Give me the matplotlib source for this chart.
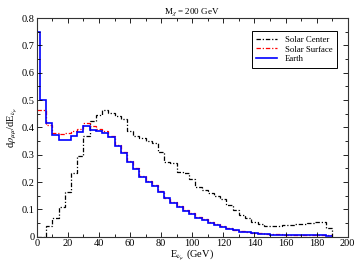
import matplotlib
matplotlib.use("Agg")
import matplotlib.pyplot as plt
import numpy as np

plt.rcParams['font.family'] = ['Liberation Serif', 'DejaVu Serif']
plt.rcParams['mathtext.fontset'] = 'stix'

# bin edges (GeV)
edges = [0] + [2 + 4 * k for k in range(48)]

solar_center = [0, 0, 0.04, 0.07, 0.11, 0.165, 0.232, 0.295, 0.37, 0.425,
                0.445, 0.465, 0.452, 0.44, 0.43, 0.385, 0.367, 0.36, 0.35, 0.342,
                0.31, 0.275, 0.268, 0.238, 0.232, 0.21, 0.183, 0.172, 0.159, 0.148,
                0.138, 0.116, 0.098, 0.08, 0.067, 0.055, 0.045, 0.04, 0.039, 0.04,
                0.042, 0.043, 0.045, 0.047, 0.05, 0.052, 0.054, 0.03]

earth = [0.75, 0.50, 0.415, 0.372, 0.352, 0.355, 0.369, 0.382, 0.405, 0.39,
         0.388, 0.381, 0.365, 0.331, 0.308, 0.275, 0.247, 0.22, 0.201, 0.186,
         0.163, 0.14, 0.123, 0.109, 0.095, 0.083, 0.07, 0.06, 0.051, 0.043,
         0.036, 0.029, 0.023, 0.019, 0.016, 0.013, 0.011, 0.009, 0.008, 0.008,
         0.007, 0.007, 0.007, 0.006, 0.006, 0.006, 0.005, 0.004]

solar_surface = [0.465, 0.465, 0.41, 0.379, 0.374, 0.379, 0.385, 0.395, 0.415, 0.405,
                 0.395, 0.385, 0.368, 0.334, 0.311, 0.278, 0.25, 0.223, 0.204, 0.189,
                 0.166, 0.143, 0.126, 0.112, 0.098, 0.086, 0.073, 0.063, 0.054, 0.046,
                 0.038, 0.031, 0.025, 0.021, 0.017, 0.014, 0.012, 0.01, 0.009, 0.009,
                 0.008, 0.008, 0.008, 0.007, 0.007, 0.007, 0.006, 0.005]

fig = plt.figure(figsize=(3.57, 2.67), dpi=100)
ax = fig.add_axes([0.103, 0.1135, 0.871, 0.819])

ax.stairs(solar_center, edges, baseline=0, color='black', lw=0.9,
          linestyle=(0, (3.5, 1.5, 1, 1.5)), label='Solar Center')
ax.stairs(solar_surface, edges, baseline=None, color='red', lw=0.9,
          linestyle=(0, (3.5, 1.5, 1, 1.5)), label='Solar Surface')
ax.stairs(earth, edges, baseline=None, color='blue', lw=1.2,
          linestyle='-', label='Earth')

ax.set_xlim(0, 200)
ax.set_ylim(0, 0.8)
ax.set_xticks(np.arange(0, 201, 20))
ax.set_xticks(np.arange(0, 201, 10), minor=True)
ax.set_yticks(np.arange(0, 0.81, 0.1))
ax.set_yticks(np.arange(0, 0.81, 0.05), minor=True)
ax.set_yticklabels(['0', '0.1', '0.2', '0.3', '0.4', '0.5', '0.6', '0.7', '0.8'])
ax.tick_params(which='both', direction='in', top=True, right=True, labelsize=7.5,
               pad=1.5, width=0.6)
ax.tick_params(which='major', length=3.5)
ax.tick_params(which='minor', length=2)
for s in ax.spines.values():
    s.set_linewidth(0.8)
    s.set_color('#333333')

ax.set_xlabel(r'E$_{\nu_\mu}$ (GeV)', fontsize=7.5, labelpad=0)
ax.set_ylabel(r'd$\rho_{\mu\mu}$/dE$_{\nu_\mu}$', fontsize=7.5, labelpad=1)
ax.set_title(r'M$_\chi$ = 200 GeV', fontsize=6.5, pad=3)

leg = ax.legend(loc='upper right', bbox_to_anchor=(0.965, 0.94), fontsize=6.3,
                fancybox=False, edgecolor='black', framealpha=1,
                handlelength=2.4, borderpad=0.5, labelspacing=0.2, handletextpad=0.9,
                borderaxespad=0)
leg.get_frame().set_linewidth(0.7)

fig.savefig('out.png', dpi=100)
